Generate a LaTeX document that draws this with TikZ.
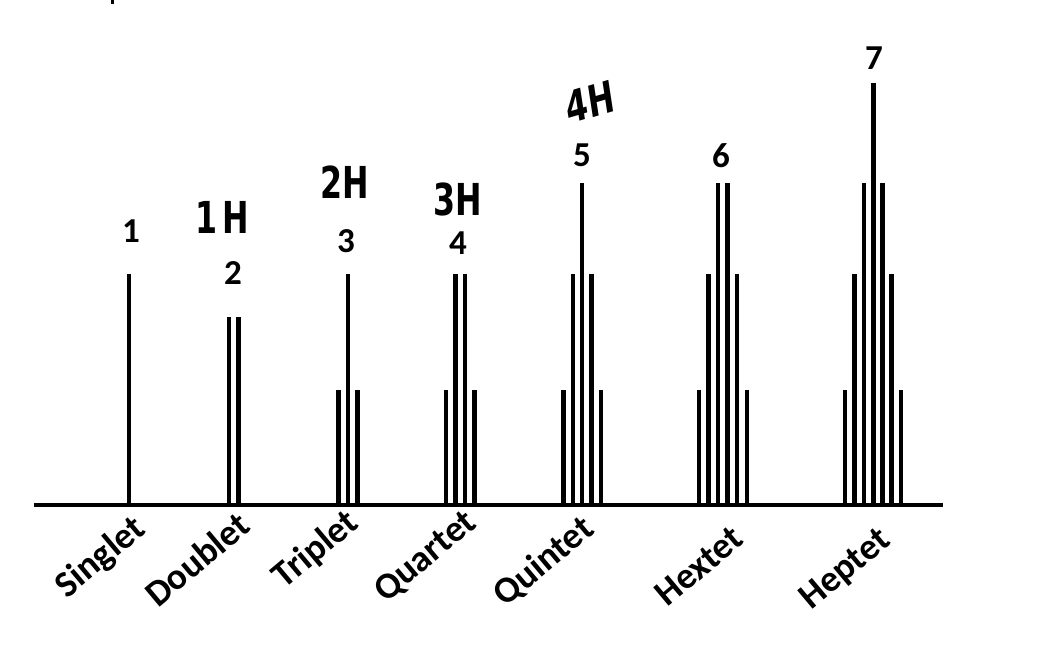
\documentclass[tikz,border=0pt]{standalone}
\usepackage{fontspec}
\setmainfont{Carlito}
\newfontfamily\handfont{DejaVu Sans}
\begin{document}
\begin{tikzpicture}[x=1pt,y=-1pt,
  barline/.style={line width=4.6pt},
  axisline/.style={line width=4.6pt},
  numlbl/.style={font=\fontsize{35}{35}\selectfont\bfseries, inner sep=0pt},
  multlbl/.style={font=\fontsize{37}{37}\selectfont\bfseries, rotate=40, inner sep=0pt},
  handlbl/.style={font=\handfont\bfseries\fontsize{44}{44}\selectfont, inner sep=0pt, xscale=0.72}]
\useasboundingbox (0,0) rectangle (1052,646);
% small stray mark
\draw[line width=3pt] (112,0) -- (112,4);
% baseline
\coordinate (L) at (34,505);
\coordinate (R) at (943,505);
\draw[axisline] (L) -- (R);
% bars
\foreach \x/\t in {129/274,
  229/317, 238.5/317,
  338.5/390, 348/274, 357.5/390,
  446/390, 455.5/274, 465/274, 474.5/390,
  563.5/390, 573/274, 582/183, 591.5/274, 601/390,
  699/390, 708.5/274, 718/183, 727.5/183, 737/274, 747/390,
  845/390, 854.5/274, 864/183, 873.5/83, 882.5/183, 891.5/274, 901/390}
  \draw[barline] (\x,505) -- (\x,\t);
% numbers
\node[numlbl] (n1) at (131,231) {1};
\node[numlbl] (n2) at (233,273) {2};
\node[numlbl] (n3) at (346,241) {3};
\node[numlbl] (n4) at (458,243) {4};
\node[numlbl] (n5) at (582,155) {5};
\node[numlbl] (n6) at (721,156) {6};
\node[numlbl] (n7) at (874,58) {7};
% names
\node[multlbl] (s1) at (101,558) {Singlet};
\node[multlbl] (s2) at (197,559) {Doublet};
\node[multlbl] (s3) at (316,550) {Triplet};
\node[multlbl] (s4) at (426,557) {Quartet};
\node[multlbl] (s5) at (544,562) {Quintet};
\node[multlbl] (s6) at (699,566) {Hextet};
\node[multlbl] (s7) at (846,570) {Heptet};
% handwritten notes
\node[handlbl] (h1) at (222,217) {1\,H};
\node[handlbl] (h2) at (345,182) {2H};
\node[handlbl] (h3) at (458,199) {3H};
\node[handlbl, rotate=12] (h4) at (590,102) {4H};
\end{tikzpicture}
\end{document}
